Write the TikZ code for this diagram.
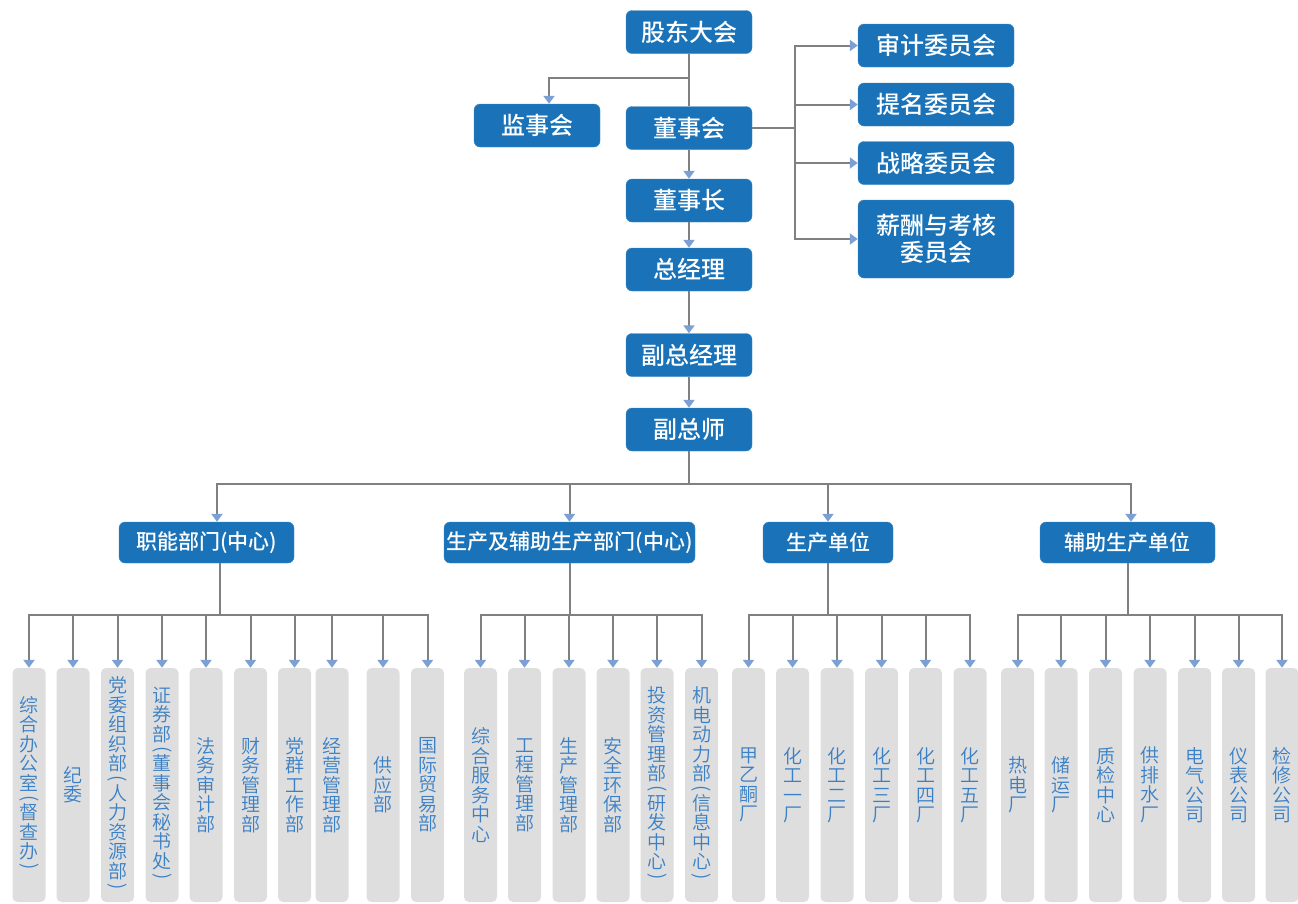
\documentclass[tikz,border=0pt]{standalone}
\usepackage{fontspec}
\setmainfont{Noto Sans CJK SC}
\newfontfamily\leadfont{Noto Sans CJK SC Medium}
\newfontfamily\deptfont{Noto Sans CJK SC DemiLight}
\usepackage{graphicx}
\usetikzlibrary{arrows.meta}

\definecolor{boxblue}{RGB}{26,115,184}
\definecolor{barfill}{RGB}{222,222,222}
\definecolor{bartext}{RGB}{58,128,198}
\definecolor{linegray}{RGB}{128,128,128}
\definecolor{tipblue}{RGB}{125,160,212}

% rotated brackets for the upright columns
\newcommand{\lpar}{\\[-4.75pt]\smash{\raisebox{1pt}{\rotatebox[origin=c]{-90}{(}}}\\[-4.75pt]}
\newcommand{\rpar}{\\[-4.75pt]\smash{\raisebox{1pt}{\rotatebox[origin=c]{-90}{)}}}}

\tikzset{
  lead/.style={fill=boxblue, draw=boxblue!85!white, rounded corners=6pt, text=white,
    minimum width=126pt, minimum height=43pt, inner sep=0pt, align=center,
    font=\leadfont\fontsize{24}{27}\selectfont},
  group/.style={lead, minimum height=41pt, font=\leadfont\fontsize{21}{24}\selectfont},
  dept/.style={fill=barfill, rounded corners=5pt, text=bartext, minimum width=33pt,
    minimum height=234pt, inner sep=0pt, align=center, font=\deptfont\fontsize{19}{19.5}\selectfont},
  link/.style={draw=linegray, line width=2pt},
  arr/.style={link, -{Triangle[length=8pt, width=11pt, color=tipblue]}}
}

\begin{document}
\begin{tikzpicture}[x=1pt, y=-1pt]
  \useasboundingbox (0,0) rectangle (1298,903);

  % Top management
  \node[lead] (meet) at (689,32) {股东大会};
  \node[lead] (super) at (537,125.5) {监事会};
  \node[lead] (board) at (689,128) {董事会};
  \node[lead] (chair) at (689,200.5) {董事长};
  \node[lead] (ceo) at (689,269.5) {总经理};
  \node[lead] (vp) at (689,355) {副总经理};
  \node[lead] (vce) at (689,429.5) {副总师};

  % Committees
  \node[lead, minimum width=156pt] (audit) at (936,45.5) {审计委员会};
  \node[lead, minimum width=156pt] (nomin) at (936,104.5) {提名委员会};
  \node[lead, minimum width=156pt] (strat) at (936,163) {战略委员会};
  \node[lead, minimum width=156pt, minimum height=78pt] (pay) at (936,239) {薪酬与考核\\委员会};

  % Groups
  \node[group, minimum width=175pt] (func) at (206.5,542.5) {职能部门(中心)};
  \node[group, minimum width=251pt] (prod) at (569.5,542.5) {生产及辅助生产部门(中心)};
  \node[group, minimum width=130pt] (unit) at (828,542.5) {生产单位};
  \node[group, minimum width=175pt] (aux) at (1127.5,542.5) {辅助生产单位};

  % Functional departments
  \node[dept] (f1) at (29,785) {综\\合\\办\\公\\室\lpar 督\\查\\办\rpar};
  \node[dept] (f2) at (73,785) {纪\\委};
  \node[dept] (f3) at (117.5,785) {党\\委\\组\\织\\部\lpar 人\\力\\资\\源\\部\rpar};
  \node[dept] (f4) at (162,785) {证\\券\\部\lpar 董\\事\\会\\秘\\书\\处\rpar};
  \node[dept] (f5) at (206,785) {法\\务\\审\\计\\部};
  \node[dept] (f6) at (250.5,785) {财\\务\\管\\理\\部};
  \node[dept] (f7) at (294.5,785) {党\\群\\工\\作\\部};
  \node[dept] (f8) at (332,785) {经\\营\\管\\理\\部};
  \node[dept] (f9) at (383,785) {供\\应\\部};
  \node[dept] (f10) at (427.5,785) {国\\际\\贸\\易\\部};

  % Production and support departments
  \node[dept] (p1) at (480.5,785) {综\\合\\服\\务\\中\\心};
  \node[dept] (p2) at (524.5,785) {工\\程\\管\\理\\部};
  \node[dept] (p3) at (569,785) {生\\产\\管\\理\\部};
  \node[dept] (p4) at (613,785) {安\\全\\环\\保\\部};
  \node[dept] (p5) at (657,785) {投\\资\\管\\理\\部\lpar 研\\发\\中\\心\rpar};
  \node[dept] (p6) at (701.5,785) {机\\电\\动\\力\\部\lpar 信\\息\\中\\心\rpar};

  % Production units
  \node[dept] (u1) at (748.5,785) {甲\\乙\\酮\\厂};
  \node[dept] (u2) at (792.5,785) {化\\工\\一\\厂};
  \node[dept] (u3) at (837,785) {化\\工\\二\\厂};
  \node[dept] (u4) at (881.5,785) {化\\工\\三\\厂};
  \node[dept] (u5) at (925.5,785) {化\\工\\四\\厂};
  \node[dept] (u6) at (970,785) {化\\工\\五\\厂};

  % Support units
  \node[dept] (a1) at (1017.5,785) {热\\电\\厂};
  \node[dept] (a2) at (1061,785) {储\\运\\厂};
  \node[dept] (a3) at (1105.5,785) {质\\检\\中\\心};
  \node[dept] (a4) at (1150,785) {供\\排\\水\\厂};
  \node[dept] (a5) at (1194.5,785) {电\\气\\公\\司};
  \node[dept] (a6) at (1238.5,785) {仪\\表\\公\\司};
  \node[dept] (a7) at (1282,785) {检\\修\\公\\司};

  % Junctions
  \coordinate (m0) at (689,78);
  \coordinate (c0) at (795,128);
  \coordinate (t0) at (689,484);
  \coordinate (j1) at (220,615);
  \coordinate (j2) at (569.5,615);
  \coordinate (j3) at (828,615);
  \coordinate (j4) at (1127.5,615);

  % Main chain
  \draw[link] (meet) -- (board);
  \draw[arr] (m0) -| ([xshift=12pt]super.north);
  \draw[arr] (board) -- (chair);
  \draw[arr] (chair) -- (ceo);
  \draw[arr] (ceo) -- (vp);
  \draw[arr] (vp) -- (vce);

  % Board to committees
  \draw[link] (board) -- (c0);
  \draw[arr] (c0) |- (audit);
  \draw[arr] (c0) |- (nomin);
  \draw[arr] (c0) |- (strat);
  \draw[arr] (c0) |- (pay);

  % To the groups
  \draw[link] (vce) -- (t0);
  \draw[arr] (t0) -| ([xshift=10.5pt]func.north);
  \draw[arr] (t0) -| (prod.north);
  \draw[arr] (t0) -| (unit.north);
  \draw[arr] (t0) -| ([xshift=3.5pt]aux.north);

  % Functional departments
  \draw[link] ([xshift=13.5pt]func.south) -- (j1);
  \draw[arr] (j1) -| (f1.north);
  \draw[arr] (j1) -| (f2.north);
  \draw[arr] (j1) -| (f3.north);
  \draw[arr] (j1) -| (f4.north);
  \draw[arr] (j1) -| (f5.north);
  \draw[arr] (j1) -| (f6.north);
  \draw[arr] (j1) -| (f7.north);
  \draw[arr] (j1) -| (f8.north);
  \draw[arr] (j1) -| (f9.north);
  \draw[arr] (j1) -| (f10.north);

  % Production and support departments
  \draw[link] (prod) -- (j2);
  \draw[arr] (j2) -| (p1.north);
  \draw[arr] (j2) -| (p2.north);
  \draw[arr] (j2) -| (p3.north);
  \draw[arr] (j2) -| (p4.north);
  \draw[arr] (j2) -| (p5.north);
  \draw[arr] (j2) -| (p6.north);

  % Production units
  \draw[link] (unit) -- (j3);
  \draw[arr] (j3) -| (u1.north);
  \draw[arr] (j3) -| (u2.north);
  \draw[arr] (j3) -| (u3.north);
  \draw[arr] (j3) -| (u4.north);
  \draw[arr] (j3) -| (u5.north);
  \draw[arr] (j3) -| (u6.north);

  % Support units
  \draw[link] (aux) -- (j4);
  \draw[arr] (j4) -| (a1.north);
  \draw[arr] (j4) -| (a2.north);
  \draw[arr] (j4) -| (a3.north);
  \draw[arr] (j4) -| (a4.north);
  \draw[arr] (j4) -| (a5.north);
  \draw[arr] (j4) -| (a6.north);
  \draw[arr] (j4) -| (a7.north);
\end{tikzpicture}
\end{document}
